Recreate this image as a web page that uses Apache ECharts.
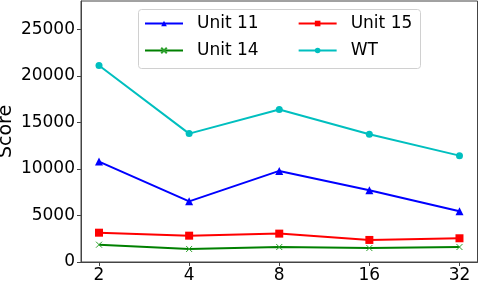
<!DOCTYPE html>
<html><head><meta charset="utf-8">
<script src="https://cdn.jsdelivr.net/npm/echarts@6/dist/echarts.min.js"></script>
<style>html,body{margin:0;padding:0;background:#fff}#c{width:479px;height:284px}</style>
</head><body><div id="c"></div>
<script>
const categories = ['2','4','8','16','32'];
const unit11 = [10790, 6520, 9790, 7710, 5450];
const unit15 = [3150, 2830, 3050, 2370, 2550];
const unit14 = [1860, 1400, 1610, 1500, 1610];
const wt = [21110, 13800, 16380, 13730, 11430];
const yTicks = [0, 5000, 10000, 15000, 20000, 25000];

const FONT = 'DejaVu Sans';
const xs = categories.map((_, i) => i);
const pair = arr => arr.map((v, i) => [i, v]);
const xPath = 'path://M0,0L10,10M10,0L0,10';

function series(name, data, color, symbol, size, extra) {
  return Object.assign({
    name, type: 'line', data: pair(data), symbol, symbolSize: size,
    lineStyle: { color, width: 2 },
    itemStyle: { color },
    emphasis: { disabled: true }, animation: false
  }, extra || {});
}

const chart = echarts.init(document.getElementById('c'), null, { renderer: 'canvas' });
const legendCommon = {
  orient: 'horizontal', itemWidth: 38, itemHeight: 7, itemGap: 39, padding: 0,
  textStyle: { fontFamily: FONT, fontSize: 17, color: '#000', padding: [0, 0, 0, 9] },
  selectedMode: false
};
chart.setOption({
  animation: false,
  grid: { left: 81, right: 1.5, top: 1, bottom: 22, show: true, borderColor: '#444', borderWidth: 1, containLabel: false, outerBoundsMode: 'none' },
  graphic: [{
    type: 'rect', left: 138, top: 9, z: 50,
    shape: { width: 282, height: 59, r: 3 },
    style: { fill: 'rgba(255,255,255,0.8)', stroke: '#d0d0d0', lineWidth: 1 }
  }],
  legend: [
    Object.assign({ left: 144, top: 15, data: ['Unit 11', 'Unit 15'], z: 60 }, legendCommon),
    Object.assign({ left: 144, top: 42, data: ['Unit 14', 'WT'], z: 60 }, legendCommon)
  ],
  xAxis: {
    type: 'value', min: -0.2, max: 4.2,
    axisLine: { show: true, onZero: false, lineStyle: { color: '#444' } },
    axisTick: { show: true, length: 4, customValues: xs, lineStyle: { color: '#444' } },
    axisLabel: { customValues: xs, formatter: v => categories[Math.round(v)], fontFamily: FONT, fontSize: 17, color: '#000', margin: 5 },
    splitLine: { show: false }
  },
  yAxis: {
    type: 'value', min: 0, max: 28050,
    name: 'Score', nameLocation: 'middle', nameGap: 65, nameMoveOverlap: false,
    nameTextStyle: { fontFamily: FONT, fontSize: 19, color: '#000' },
    axisLine: { show: true, onZero: false, lineStyle: { color: '#444' } },
    axisTick: { show: true, length: 4, customValues: yTicks, lineStyle: { color: '#444' } },
    axisLabel: { customValues: yTicks, formatter: v => String(v), fontFamily: FONT, fontSize: 17, color: '#000', margin: 6 },
    splitLine: { show: false }
  },
  series: [
    series('Unit 11', unit11, '#0000ff', 'triangle', 8),
    series('Unit 15', unit15, '#ff0000', 'rect', 8),
    series('Unit 14', unit14, '#008000', xPath, 6, { itemStyle: { color: '#2ca02c', borderColor: '#2ca02c', borderWidth: 1 } }),
    series('WT', wt, '#00bfbf', 'circle', 7)
  ]
});
</script></body></html>
